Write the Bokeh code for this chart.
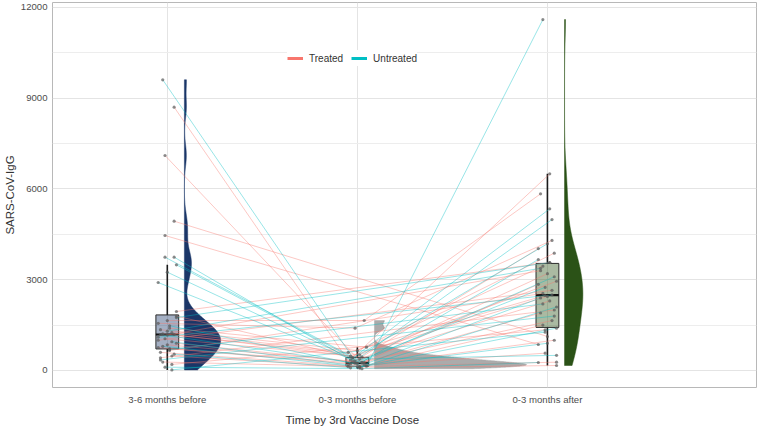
import numpy as np
from bokeh.plotting import figure
from bokeh.models import Range1d, FixedTicker, Title, Legend, LegendItem
from bokeh.embed import file_html
from bokeh.resources import INLINE

# ---------------- data ----------------
categories = ["3-6 months before", "0-3 months before", "0-3 months after"]
series_names = ["Treated", "Untreated"]

treatment = (["Untreated"] * 19) + (["Treated"] * 27)

igg_3to6_before = [9610, 3746, 3746, 3494, 3250, 2909, 1480, 1190, 950, 800, 540, 110,
                   1750, 1300, 1100, 690, 350, 20, None,
                   8705, 7108, 1800, 1650, 1560, 1400, 1350, 1250, 1210, 1190, 1050, 900,
                   850, 760, 720, 600, 480, 280,
                   4936, 4463, 1950, 1170, 1000, 661, 420, 200, None]
igg_0to3_before = [100, 350, 280, 410, 200, 320, 140, 230, 185, 120, 90, 60,
                   None, None, None, None, None, None, 380,
                   215, 245, 430, 1653, 1400, 770, 660, 600, 520, 480, 450, 300,
                   260, 240, 170, 132, 128, 125,
                   None, None, None, None, None, None, None, None, 80]
igg_0to3_after = [2100, 4190, 3670, 5345, 2400, 4990, 11600, 3100, 2750, 1400, 900, 265,
                  3570, 3380, 2500, 2200, 1800, 1266, 500,
                  3200, 2850, 6500, 5840, 4300, 3450, 3880, 2480, 2950, 2450, 4030, 2300,
                  1900, 1650, 1500, 1000, 573, 275,
                  1124, 860, 3570, 3300, 2650, 2550, 2000, 1345, 165]

y_ticks = [0, 3000, 6000, 9000, 12000]
y_minor_ticks = [1500, 4500, 7500, 10500]

# ---------------- styles ----------------
line_colors = {"Treated": "#F8766D", "Untreated": "#00BFC4"}
group_colors = ["#1B3668", "#ABABAB", "#2B5217"]
FONT = "Liberation Sans"

groups = [igg_3to6_before, igg_0to3_before, igg_0to3_after]
positions = [1, 2, 3]


def jitter(i, k):
    return (((i * 5 + k * 3 + 2) % 9) - 4) * 0.012


def nrd0(x):
    x = np.asarray(x, dtype=float)
    hi = x.std(ddof=1)
    q75, q25 = np.percentile(x, [75, 25])
    lo = min(hi, (q75 - q25) / 1.34)
    if lo <= 0:
        lo = hi
    return 0.9 * lo * len(x) ** -0.2


p = figure(width=758, height=432, title=None,
           x_range=Range1d(0.396, 4.10), y_range=Range1d(-562, 12165),
           output_backend="svg", toolbar_location=None,
           min_border_left=50, min_border_right=2, min_border_top=2, min_border_bottom=45)

p.background_fill_color = "white"
p.border_fill_color = "white"
p.outline_line_color = "#B8B8B8"
p.outline_line_width = 1

# ---------------- half violins (KDE, area scaled) ----------------
dens_list = []
for vals in groups:
    v = np.array([a for a in vals if a is not None], dtype=float)
    bw = nrd0(v)
    g = np.linspace(v.min(), v.max(), 512)
    d = np.exp(-0.5 * ((g[:, None] - v[None, :]) / bw) ** 2).sum(axis=1) / (len(v) * bw * np.sqrt(2 * np.pi))
    dens_list.append((g, d))
dmax = max(d.max() for _, d in dens_list)
VW = 0.80
NUDGE = 0.09
for k, (g, d) in enumerate(dens_list):
    x0 = positions[k] + NUDGE
    xs = np.concatenate([x0 + d / dmax * VW, [x0, x0]])
    ys = np.concatenate([g, [g[-1], g[0]]])
    p.patch(xs, ys, fill_color=group_colors[k], line_color=group_colors[k], line_width=0.5)

# ---------------- boxplots ----------------
BW = 0.06
for k, vals in enumerate(groups):
    v = np.array([a for a in vals if a is not None], dtype=float)
    q1, med, q3 = np.percentile(v, [25, 50, 75])
    iqr = q3 - q1
    up = v[v <= q3 + 1.5 * iqr].max()
    lo = v[v >= q1 - 1.5 * iqr].min()
    x = positions[k]
    p.segment(x0=[x, x], y0=[q3, q1], x1=[x, x], y1=[up, lo], line_color="#1a1a1a", line_width=1.6)
    p.quad(left=[x - BW], right=[x + BW], bottom=[q1], top=[q3],
           fill_color=group_colors[k], fill_alpha=0.4, line_color="#2a2a2a", line_width=1)
    p.segment(x0=[x - BW], y0=[med], x1=[x + BW], y1=[med], line_color="#111111", line_width=2.2)

# ---------------- connecting lines ----------------
for name in series_names:
    xs_all, ys_all = [], []
    for i, t in enumerate(treatment):
        if t != name:
            continue
        xs, ys = [], []
        for k, vals in enumerate(groups):
            if vals[i] is not None:
                xs.append(positions[k] + jitter(i, k))
                ys.append(vals[i])
        xs_all.append(xs)
        ys_all.append(ys)
    p.multi_line(xs_all, ys_all, line_color=line_colors[name], line_alpha=0.45, line_width=0.9)

# ---------------- points ----------------
px, py = [], []
for i in range(len(treatment)):
    for k, vals in enumerate(groups):
        if vals[i] is not None:
            px.append(positions[k] + jitter(i, k))
            py.append(vals[i])
p.scatter(px, py, size=3.2, fill_color="#5a5a5a", fill_alpha=0.7, line_color=None)

# ---------------- axes / grid ----------------
p.xaxis.ticker = FixedTicker(ticks=positions)
p.xaxis.major_label_overrides = {positions[k]: categories[k] for k in range(3)}
p.yaxis.ticker = FixedTicker(ticks=y_ticks, minor_ticks=y_minor_ticks)
for ax in (p.xaxis, p.yaxis):
    ax.axis_line_color = None
    ax.major_tick_line_color = None
    ax.minor_tick_line_color = None
    ax.major_tick_out = 0
    ax.major_tick_in = 0
    ax.minor_tick_out = 0
    ax.minor_tick_in = 0
    ax.major_label_text_font = FONT
    ax.major_label_text_font_size = "9.6px"
    ax.major_label_text_color = "#4D4D4D"
    ax.major_label_standoff = 5
    ax.axis_label_text_font = FONT
    ax.axis_label_text_font_size = "11.5px"
    ax.axis_label_text_font_style = "normal"
    ax.axis_label_text_color = "#333333"
p.xaxis.major_label_standoff = 6
p.yaxis.axis_label = "SARS-CoV-IgG"
p.yaxis.axis_label_standoff = 2

p.xgrid.ticker = FixedTicker(ticks=positions)
p.xgrid.grid_line_color = "#E4E4E4"
p.ygrid.grid_line_color = "#E4E4E4"
p.ygrid.grid_line_width = 1.2
p.ygrid.minor_grid_line_color = "#EDEDED"

xtitle = Title(text="Time by 3rd Vaccine Dose", align="left", offset=233,
               text_font=FONT, text_font_size="11.5px", text_font_style="normal",
               text_color="#333333", standoff=8)
p.add_layout(xtitle, "below")

# ---------------- legend ----------------
r_t = p.line(x=[0, 0.1], y=[-50000, -50000], line_color=line_colors["Treated"], line_width=3)
r_u = p.line(x=[0, 0.1], y=[-50000, -50000], line_color=line_colors["Untreated"], line_width=3)
legend = Legend(items=[LegendItem(label=series_names[0], renderers=[r_t]),
                       LegendItem(label=series_names[1], renderers=[r_u])],
                orientation="horizontal", location=(235, 321),
                background_fill_color="white", background_fill_alpha=1.0,
                border_line_color=None, label_text_font=FONT, label_text_font_size="10px",
                label_text_color="#333333", glyph_width=16, glyph_height=16, label_height=16,
                label_standoff=6, spacing=8, padding=5, margin=0)
p.add_layout(legend)

open("out.html", "w").write(file_html(p, INLINE))
